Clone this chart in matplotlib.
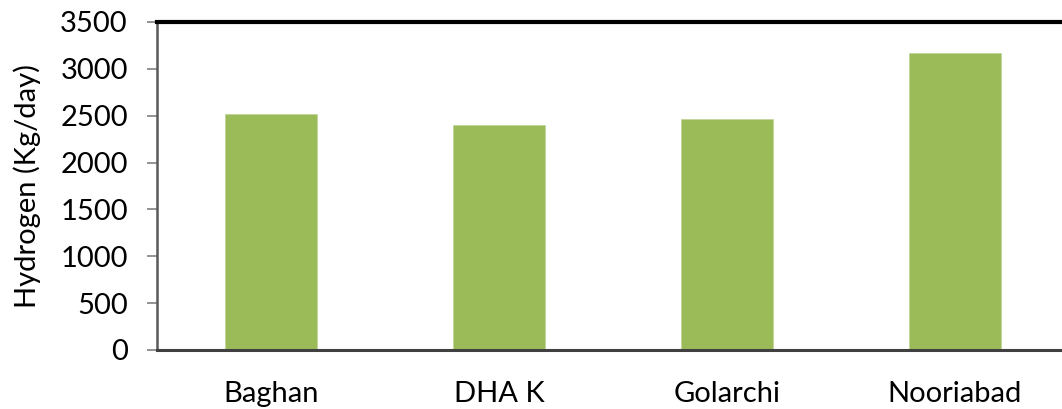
import matplotlib.pyplot as plt

sites = ['Baghan', 'DHA K', 'Golarchi', 'Nooriabad']
hydrogen = [2520, 2400, 2460, 3165]
yticks = [0, 500, 1000, 1500, 2000, 2500, 3000, 3500]

plt.rcParams['font.family'] = ['Lato', 'DejaVu Sans']

fig = plt.figure(figsize=(10.62, 4.09), dpi=100)
ax = fig.add_axes([157 / 1062, 1 - 350 / 409, (1069 - 157) / 1062, (350 - 22) / 409])

x = range(len(sites))
ax.bar(x, hydrogen, width=0.4, color='#9BBB59', edgecolor='#C3D69B', linewidth=0.6)

ax.set_xlim(-0.5, len(sites) - 0.5)
ax.set_ylim(0, 3500)
ax.set_yticks(yticks)
ax.set_xticks(list(x))
ax.set_xticklabels(sites)
ax.set_ylabel('Hydrogen (Kg/day)', fontsize=21, labelpad=14)

ax.tick_params(axis='y', direction='out', length=7, width=1.2, color='#808080',
               labelsize=21, pad=14)
ax.tick_params(axis='x', length=0, labelsize=21, pad=22)

ax.spines['top'].set_linewidth(3)
ax.spines['top'].set_color('black')
ax.spines['left'].set_linewidth(1.8)
ax.spines['left'].set_color('#595959')
ax.spines['bottom'].set_linewidth(2.2)
ax.spines['bottom'].set_color('#404040')
ax.spines['right'].set_visible(False)

plt.savefig('out.png', dpi=100)
